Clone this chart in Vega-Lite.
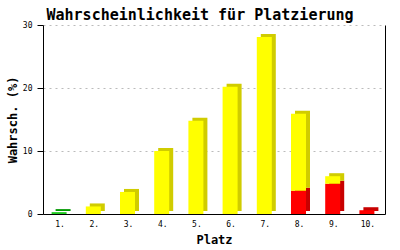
{
  "$schema": "https://vega.github.io/schema/vega-lite/v6.json",
  "autosize": "none",
  "width": 342,
  "height": 189,
  "padding": {"left": 43, "top": 25, "right": 15, "bottom": 36},
  "background": "white",
  "title": {
    "text": "Wahrscheinlichkeit für Platzierung",
    "font": "DejaVu Sans Mono",
    "fontSize": 15,
    "fontWeight": "bold",
    "color": "black",
    "anchor": "middle",
    "dx": -14,
    "offset": -2
  },
  "data": {
    "values": [
      {"Platz": "1.", "farbe": "gruen", "wert": 0.3},
      {"Platz": "2.", "farbe": "gelb", "wert": 1.2},
      {"Platz": "3.", "farbe": "gelb", "wert": 3.5},
      {"Platz": "4.", "farbe": "gelb", "wert": 10.0},
      {"Platz": "5.", "farbe": "gelb", "wert": 14.8},
      {"Platz": "6.", "farbe": "gelb", "wert": 20.2},
      {"Platz": "7.", "farbe": "gelb", "wert": 28.1},
      {"Platz": "8.", "farbe": "rot", "wert": 3.7},
      {"Platz": "8.", "farbe": "gelb", "wert": 12.2},
      {"Platz": "9.", "farbe": "rot", "wert": 4.8},
      {"Platz": "9.", "farbe": "gelb", "wert": 1.2},
      {"Platz": "10.", "farbe": "rot", "wert": 0.6}
    ]
  },
  "encoding": {
    "x": {
      "field": "Platz",
      "type": "nominal",
      "sort": ["1.", "2.", "3.", "4.", "5.", "6.", "7.", "8.", "9.", "10."],
      "scale": {"paddingInner": 0, "paddingOuter": 0},
      "axis": {
        "title": "Platz",
        "labelAngle": 0,
        "ticks": false,
        "labelPadding": 6,
        "titlePadding": 6,
        "domainColor": "black",
        "grid": false
      }
    },
    "order": {"field": "farbe", "sort": "descending"}
  },
  "layer": [
    {
      "mark": {"type": "bar", "width": 15, "xOffset": 3, "yOffset": -3},
      "encoding": {
        "y": {
          "field": "wert",
          "type": "quantitative",
          "stack": "zero",
          "scale": {"domain": [0, 30], "nice": false},
          "axis": {
            "orient": "right",
            "labels": false,
            "ticks": false,
            "grid": false,
            "title": null,
            "domainColor": "black"
          }
        },
        "color": {
          "field": "farbe",
          "type": "nominal",
          "scale": {"domain": ["gruen", "gelb", "rot"], "range": ["#009900", "#D0CC00", "#C80000"]},
          "legend": null
        }
      }
    },
    {
      "mark": {"type": "bar", "width": 15, "xOffset": -1},
      "encoding": {
        "y": {
          "field": "wert",
          "type": "quantitative",
          "stack": "zero",
          "scale": {"domain": [0, 30], "nice": false},
          "axis": {
            "title": "Wahrsch. (%)",
            "values": [0, 10, 20, 30],
            "tickSize": 6,
            "tickColor": "black",
            "domainColor": "black",
            "labelPadding": 5,
            "titlePadding": 3,
            "grid": true,
            "gridColor": "#BBBBBB",
            "gridDash": [2, 4]
          }
        },
        "color": {
          "field": "farbe",
          "type": "nominal",
          "scale": {"domain": ["gruen", "gelb", "rot"], "range": ["#22CC22", "#FFFF00", "#FF0000"]},
          "legend": null
        }
      }
    }
  ],
  "resolve": {"scale": {"color": "independent"}, "axis": {"y": "independent"}},
  "config": {
    "view": {"stroke": null},
    "axis": {
      "labelFont": "DejaVu Sans Mono",
      "labelFontSize": 8,
      "labelColor": "black",
      "titleFont": "DejaVu Sans Mono",
      "titleFontSize": 12,
      "titleFontWeight": "bold",
      "titleColor": "black"
    }
  }
}
